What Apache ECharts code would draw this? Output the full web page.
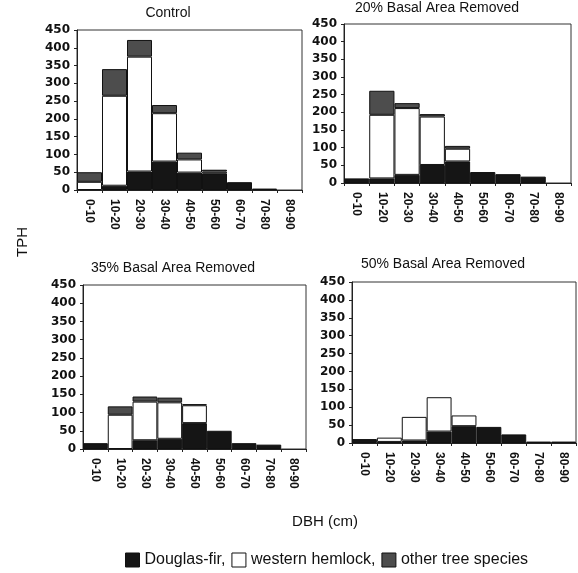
<!DOCTYPE html>
<html>
<head>
<meta charset="utf-8">
<script src="https://cdn.jsdelivr.net/npm/echarts@6/dist/echarts.min.js"></script>
<style>
html,body{margin:0;padding:0;background:#fff;}
#c{width:578px;height:573px;}
</style>
</head>
<body>
<div id="c"></div>
<script>
const categories = ['0-10','10-20','20-30','30-40','40-50','50-60','60-70','70-80','80-90'];
const panelTitles = ['Control','20% Basal Area Removed','35% Basal Area Removed','50% Basal Area Removed'];
const yTicks = [0,50,100,150,200,250,300,350,400,450];

const controlDF    = [0, 12, 52, 80, 49, 47, 22, 4, 0];
const controlWH    = [23, 253, 323, 136, 37, 5, 0, 0, 0];
const controlOther = [27, 75, 47, 23, 19, 5, 0, 0, 0];

const ba20DF    = [13, 13, 23, 51, 61, 31, 25, 18, 0];
const ba20WH    = [0, 180, 189, 137, 36, 0, 0, 0, 0];
const ba20Other = [0, 68, 14, 7, 8, 0, 0, 0, 0];

const ba35DF    = [16, 0, 24, 28, 71, 50, 16, 12, 0];
const ba35WH    = [0, 94, 106, 100, 49, 0, 0, 0, 0];
const ba35Other = [0, 23, 14, 13, 3, 0, 0, 0, 0];

const ba50DF    = [11, 3, 7, 32, 47, 45, 24, 4, 4];
const ba50WH    = [0, 12, 66, 96, 30, 0, 0, 0, 0];
const ba50Other = [0, 0, 0, 0, 0, 0, 0, 0, 0];

const panels = [
  {df: controlDF, wh: controlWH, ot: controlOther},
  {df: ba20DF, wh: ba20WH, ot: ba20Other},
  {df: ba35DF, wh: ba35WH, ot: ba35Other},
  {df: ba50DF, wh: ba50WH, ot: ba50Other}
];

const grids = [
  {left: 77, top: 30, width: 225, height: 160},
  {left: 344, top: 24, width: 227, height: 159},
  {left: 83, top: 285, width: 223, height: 164},
  {left: 352, top: 282, width: 224, height: 161}
];
const titlePos = [[168, 13], [437, 8], [173, 268], [443, 264]];

const FONT = '"Liberation Sans", Arial, sans-serif';
const names = ['Douglas-fir', 'western hemlock', 'other tree species'];
const colors = ['#151515', '#ffffff', '#4d4d4d'];

const xAxes = [], yAxes = [], series = [], graphics = [];
grids.forEach((g, i) => {
  g.show = true; g.borderColor = '#333'; g.borderWidth = 1; g.containLabel = false;
  xAxes.push({
    type: 'category', gridIndex: i, data: categories,
    axisLine: {show: true, lineStyle: {color: '#222', width: 1}},
    axisTick: {show: true, length: 3, lineStyle: {color: '#222'}},
    axisLabel: {rotate: -90, margin: 9, fontFamily: FONT, fontSize: 12, fontWeight: 'bold', color: '#111', interval: 0}
  });
  yAxes.push({
    type: 'value', gridIndex: i, min: yTicks[0], max: yTicks[yTicks.length-1], interval: yTicks[1]-yTicks[0],
    axisLine: {show: true, lineStyle: {color: '#222', width: 1}},
    axisTick: {show: true, length: 3, lineStyle: {color: '#222'}},
    splitLine: {show: false},
    axisLabel: {margin: 7, fontFamily: '"DejaVu Sans", sans-serif', fontSize: 12, fontWeight: 'bold', color: '#111'}
  });
  const p = panels[i];
  [p.df, p.wh, p.ot].forEach((arr, k) => {
    series.push({
      name: names[k], type: 'bar', stack: 's' + i, xAxisIndex: i, yAxisIndex: i,
      barCategoryGap: '0%',
      data: arr.map(v => v === 0 ? '-' : v),
      itemStyle: {color: colors[k], borderColor: '#111', borderWidth: 1},
      emphasis: {disabled: true},
      animation: false
    });
  });
  graphics.push({
    type: 'text', x: titlePos[i][0], y: titlePos[i][1],
    style: {text: panelTitles[i], fontFamily: FONT, fontSize: 14, fill: '#111', textAlign: 'center', textVerticalAlign: 'middle'}
  });
});

graphics.push({
  type: 'text', x: 23, y: 242, rotation: Math.PI/2,
  style: {text: 'TPH', fontFamily: FONT, fontSize: 15, fill: '#111', textAlign: 'center', textVerticalAlign: 'middle'}
});
graphics.push({
  type: 'text', x: 325, y: 522,
  style: {text: 'DBH (cm)', fontFamily: FONT, fontSize: 15, fill: '#111', textAlign: 'center', textVerticalAlign: 'middle'}
});

const option = {
  backgroundColor: '#fff',
  animation: false,
  grid: grids,
  xAxis: xAxes,
  yAxis: yAxes,
  series: series,
  graphic: graphics,
  legend: {
    data: names, left: 123, top: 550, padding: 2, icon: 'rect', itemWidth: 14, itemHeight: 14, itemGap: 6,
    selectedMode: false,
    itemStyle: {borderColor: '#111', borderWidth: 1},
    formatter: n => n === 'other tree species' ? n : n + ',',
    textStyle: {fontFamily: FONT, fontSize: 16, color: '#111'}
  }
};
const chart = echarts.init(document.getElementById('c'), null, {renderer: 'canvas'});
chart.setOption(option);
</script>
</body>
</html>
